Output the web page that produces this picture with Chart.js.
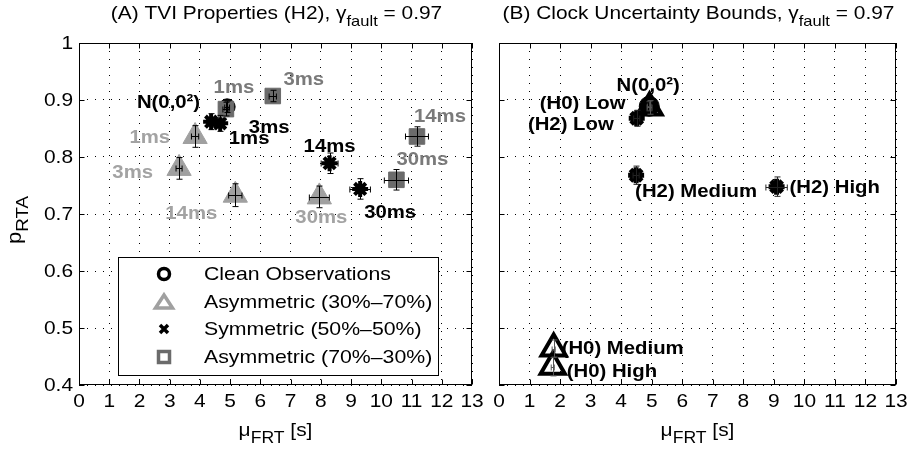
<!DOCTYPE html>
<html>
<head>
<meta charset="utf-8">
<title>TVI properties and clock uncertainty bounds</title>
<script src="https://cdn.jsdelivr.net/npm/chart.js@4.4.1/dist/chart.umd.min.js"></script>
<style>
body { margin: 0; background: #fff; }
#wrap { position: relative; width: 914px; height: 454px; }
#wrap canvas { position: absolute; left: 0; top: 0; }
</style>
</head>
<body>
<div id="wrap">
  <canvas id="chartA" width="914" height="454"></canvas>
  <canvas id="chartB" width="914" height="454"></canvas>
</div>
<script>
// ---------- data ----------
const xTickVals = [0, 1, 2, 3, 4, 5, 6, 7, 8, 9, 10, 11, 12, 13];
const xTickLabels = ['0', '1', '2', '3', '4', '5', '6', '7', '8', '9', '10', '11', '12', '13'];
const yTickVals = [0.4, 0.5, 0.6, 0.7, 0.8, 0.9, 1.0];
const yTickLabels = ['0.4', '0.5', '0.6', '0.7', '0.8', '0.9', '1'];

// (A) TVI properties (H2)
const aCleanX = [4.90];
const aCleanY = [0.888];
const aCleanErrX = [0.08];
const aCleanErrY = [0.010];
const aCleanLabels = ['N(0,0²)'];

const aTriX = [3.84, 3.31, 5.17, 7.95];          // asymmetric 30%-70%
const aTriY = [0.836, 0.780, 0.733, 0.730];
const aTriErrX = [0.12, 0.10, 0.22, 0.33];
const aTriErrY = [0.019, 0.019, 0.020, 0.019];
const aTriLabels = ['1ms', '3ms', '14ms', '30ms'];

const aStarX = [4.37, 4.67, 8.29, 9.30];         // symmetric 50%-50%
const aStarY = [0.862, 0.859, 0.789, 0.744];
const aStarErrX = [0.08, 0.08, 0.28, 0.34];
const aStarErrY = [0.014, 0.014, 0.018, 0.018];
const aStarLabels = ['1ms', '3ms', '14ms', '30ms'];

const aSqX = [4.86, 6.41, 11.18, 10.50];         // asymmetric 70%-30%
const aSqY = [0.884, 0.907, 0.836, 0.760];
const aSqErrX = [0.10, 0.12, 0.38, 0.40];
const aSqErrY = [0.012, 0.010, 0.017, 0.018];
const aSqLabels = ['1ms', '3ms', '14ms', '30ms'];

// (B) clock uncertainty bounds
const bCleanX = [4.92];
const bCleanY = [0.889];
const bCleanErrX = [0.06];
const bCleanErrY = [0.008];
const bCleanLabels = ['N(0,0²)'];

const bH0X = [4.93, 1.79, 1.76];
const bH0Y = [0.887, 0.464, 0.432];
const bH0ErrX = [0.08, 0.05, 0.05];
const bH0ErrY = [0.012, 0.015, 0.016];
const bH0Labels = ['(H0) Low', '(H0) Medium', '(H0) High'];

const bH2X = [4.51, 4.49, 9.09];
const bH2Y = [0.868, 0.768, 0.748];
const bH2ErrX = [0.10, 0.10, 0.35];
const bH2ErrY = [0.014, 0.016, 0.017];
const bH2Labels = ['(H2) Low', '(H2) Medium', '(H2) High'];

// label placement: pixel offset from the marker and text alignment
const aCleanLabelPos = [[-27, -4, 'right']];
const aTriLabelPos = [[-25, 1, 'right'], [-26, 4, 'right'], [-44, 19, 'center'], [2, 21, 'center']];
const aStarLabelPos = [[38, 17, 'center'], [49, 4, 'center'], [0, -17, 'center'], [30, 24, 'center']];
const aSqLabelPos = [[8, -21, 'center'], [31, -16, 'center'], [23, -20, 'center'], [26, -20, 'center']];
const bCleanLabelPos = [[-1, -21, 'center']];
const bH0LabelPos = [[-24, -4, 'right'], [8, 0, 'left'], [14, 5, 'left']];
const bH2LabelPos = [[-23, 7, 'right'], [-1, 17, 'left'], [13, 1, 'left']];

const FONT = "'Liberation Sans', Arial, Helvetica, sans-serif";
const STRETCH = 1.1;   // the original lettering is a bit wider than Arial

function pts(xs, ys) {
  return xs.map((x, i) => ({ x: x, y: ys[i] }));
}

// plain text, widened horizontally
function wideText(ctx, text, x, y, align, font, k) {
  ctx.save();
  ctx.font = font;
  ctx.textAlign = align;
  ctx.translate(x, y);
  ctx.scale(k || STRETCH, 1);
  ctx.fillText(text, 0, 0);
  ctx.restore();
}

// text with subscripts: parts = [[text, 'sub'|''], ...]
function richText(ctx, parts, x, y, align, size, subSize) {
  const fnt = s => s + 'px ' + FONT;
  let total = 0;
  parts.forEach(p => { ctx.font = fnt(p[1] ? subSize : size); total += ctx.measureText(p[0]).width * STRETCH; });
  let cx = align === 'center' ? x - total / 2 : (align === 'right' ? x - total : x);
  ctx.textBaseline = 'alphabetic';
  parts.forEach(p => {
    const f = fnt(p[1] ? subSize : size);
    wideText(ctx, p[0], cx, y + (p[1] === 'sub' ? 7 : 0), 'left', f);
    ctx.font = f;
    cx += ctx.measureText(p[0]).width * STRETCH;
  });
}

// error bars with caps
const errorBars = {
  id: 'errorBars',
  afterDatasetsDraw(chart) {
    const ctx = chart.ctx, xs = chart.scales.x, ys = chart.scales.y;
    chart.data.datasets.forEach(ds => {
      if (!ds.errX) return;
      ctx.save();
      ctx.strokeStyle = ds.errColor || '#000';
      ctx.lineWidth = 1;
      ds.data.forEach((p, i) => {
        const x0 = xs.getPixelForValue(p.x - ds.errX[i]), x1 = xs.getPixelForValue(p.x + ds.errX[i]);
        const y0 = ys.getPixelForValue(p.y - ds.errY[i]), y1 = ys.getPixelForValue(p.y + ds.errY[i]);
        const px = Math.round(xs.getPixelForValue(p.x)) + 0.5, py = Math.round(ys.getPixelForValue(p.y)) + 0.5;
        ctx.beginPath();
        ctx.moveTo(x0, py); ctx.lineTo(x1, py);
        ctx.moveTo(x0, py - 3); ctx.lineTo(x0, py + 3);
        ctx.moveTo(x1, py - 3); ctx.lineTo(x1, py + 3);
        ctx.moveTo(px, y0); ctx.lineTo(px, y1);
        ctx.moveTo(px - 3, y0); ctx.lineTo(px + 3, y0);
        ctx.moveTo(px - 3, y1); ctx.lineTo(px + 3, y1);
        ctx.stroke();
      });
      ctx.restore();
    });
  }
};

// point labels
const pointLabels = {
  id: 'pointLabels',
  afterDatasetsDraw(chart) {
    const ctx = chart.ctx;
    chart.data.datasets.forEach((ds, di) => {
      if (!ds.ptLabels) return;
      const meta = chart.getDatasetMeta(di);
      ctx.save();
      ctx.fillStyle = ds.labelColor;
      ctx.textBaseline = 'middle';
      meta.data.forEach((el, i) => {
        const pos = ds.ptLabelPos[i];
        wideText(ctx, ds.ptLabels[i], el.x + pos[0], el.y + pos[1], pos[2], 'bold 19px ' + FONT, 1.07);
      });
      ctx.restore();
    });
  }
};

// frame, inward ticks, tick labels, titles, axis labels, legend
const panelDeco = {
  id: 'panelDeco',
  afterDraw(chart, args, opts) {
    const ctx = chart.ctx, a = chart.chartArea, xs = chart.scales.x, ys = chart.scales.y;
    const L = Math.round(a.left) + 0.5, R = Math.round(a.right) - 0.5;
    const T = Math.round(a.top) + 0.5, B = Math.round(a.bottom) - 0.5;
    ctx.save();
    ctx.strokeStyle = '#000';
    ctx.lineWidth = 1;
    ctx.beginPath();
    xTickVals.forEach(v => {
      const px = Math.round(xs.getPixelForValue(v)) + 0.5;
      ctx.moveTo(px, T); ctx.lineTo(px, T + 5);
      ctx.moveTo(px, B); ctx.lineTo(px, B - 5);
    });
    yTickVals.forEach(v => {
      const py = Math.round(ys.getPixelForValue(v)) + 0.5;
      ctx.moveTo(L, py); ctx.lineTo(L + 5, py);
      ctx.moveTo(R, py); ctx.lineTo(R - 5, py);
    });
    ctx.stroke();
    ctx.strokeRect(L, T, R - L, B - T);

    ctx.fillStyle = '#000';
    ctx.textBaseline = 'middle';
    xTickVals.forEach((v, i) => {
      wideText(ctx, xTickLabels[i], xs.getPixelForValue(v), a.bottom + 17, 'center', '19px ' + FONT);
    });
    if (opts.yLabel) {
      yTickVals.forEach((v, i) => {
        wideText(ctx, yTickLabels[i], a.left - 6, ys.getPixelForValue(v) + 1, 'right', '19px ' + FONT);
      });
    }

    const cx = (a.left + a.right) / 2;
    richText(ctx, opts.title, cx + 1, 19, 'center', 19, 15);
    richText(ctx, [['μ', ''], ['FRT', 'sub'], [' [s]', '']], cx, 436, 'center', 19, 16);

    if (opts.yLabel) {
      ctx.save();
      ctx.translate(21, (a.top + a.bottom) / 2 + 6);
      ctx.rotate(-Math.PI / 2);
      richText(ctx, [['p', ''], ['RTA', 'sub']], 0, 0, 'center', 20, 17);
      ctx.restore();
    }

    if (opts.legend) {
      const bx = 118.5, by = 257.5, bw = 320, bh = 118;
      ctx.fillStyle = '#fff';
      ctx.fillRect(bx, by, bw, bh);
      ctx.strokeRect(bx, by, bw, bh);
      const mx = 164, tx = 204;
      const rows = [274, 302, 329, 357];
      const names = ['Clean Observations', 'Asymmetric (30%\u201370%)', 'Symmetric (50%\u201350%)', 'Asymmetric (70%\u201330%)'];
      ctx.lineWidth = 3.5;
      // circle
      ctx.strokeStyle = '#000';
      ctx.beginPath(); ctx.arc(mx, rows[0], 5.5, 0, Math.PI * 2); ctx.stroke();
      // triangle
      ctx.strokeStyle = '#a0a0a0';
      ctx.beginPath();
      ctx.moveTo(mx, rows[1] - 7); ctx.lineTo(mx + 8.5, rows[1] + 6); ctx.lineTo(mx - 8.5, rows[1] + 6); ctx.closePath();
      ctx.stroke();
      // x
      ctx.strokeStyle = '#000';
      ctx.beginPath();
      ctx.moveTo(mx - 4, rows[2] - 4); ctx.lineTo(mx + 4, rows[2] + 4);
      ctx.moveTo(mx + 4, rows[2] - 4); ctx.lineTo(mx - 4, rows[2] + 4);
      ctx.stroke();
      // square
      ctx.strokeStyle = '#6b6b6b';
      ctx.strokeRect(mx - 5.5, rows[3] - 5.5, 11, 11);
      ctx.fillStyle = '#000';
      ctx.textBaseline = 'middle';
      names.forEach((n, i) => wideText(ctx, n, tx, rows[i] + 1, 'left', '19px ' + FONT, 1.12));
    }
    ctx.restore();
  }
};

function axes(yWidth) {
  return {
    x: {
      type: 'linear', min: 0, max: 13,
      afterBuildTicks: s => { s.ticks = xTickVals.map(v => ({ value: v })); },
      ticks: { display: false },
      grid: { color: '#000', lineWidth: 1, drawTicks: false },
      border: { display: false, dash: [1, 7] },
      afterFit: s => { s.height = 69; s.paddingLeft = 0; s.paddingRight = 0; }
    },
    y: {
      type: 'linear', min: 0.4, max: 1,
      afterBuildTicks: s => { s.ticks = yTickVals.map(v => ({ value: v })); },
      ticks: { display: false },
      grid: { color: '#000', lineWidth: 1, drawTicks: false },
      border: { display: false, dash: [1, 7] },
      afterFit: s => { s.width = yWidth; s.paddingTop = 0; s.paddingBottom = 0; }
    }
  };
}

new Chart(document.getElementById('chartA'), {
  type: 'scatter',
  data: {
    datasets: [
      { label: 'Clean Observations', data: pts(aCleanX, aCleanY), order: 4,
        pointStyle: 'circle', radius: 8, backgroundColor: '#000', borderColor: '#000', borderWidth: 1,
        errX: aCleanErrX, errY: aCleanErrY, ptLabels: aCleanLabels, ptLabelPos: aCleanLabelPos, labelColor: '#000' },
      { label: 'Asymmetric (30%-70%)', data: pts(aTriX, aTriY), order: 3,
        pointStyle: 'triangle', radius: 14, backgroundColor: '#a0a0a0', borderColor: '#a0a0a0', borderWidth: 1,
        errX: aTriErrX, errY: aTriErrY, ptLabels: aTriLabels, ptLabelPos: aTriLabelPos, labelColor: '#a3a3a3' },
      { label: 'Symmetric (50%-50%)', data: pts(aStarX, aStarY), order: 2,
        pointStyle: 'star', radius: 8, borderColor: '#000', borderWidth: 4,
        errX: aStarErrX, errY: aStarErrY, ptLabels: aStarLabels, ptLabelPos: aStarLabelPos, labelColor: '#000' },
      { label: 'Asymmetric (70%-30%)', data: pts(aSqX, aSqY), order: 1,
        pointStyle: 'rect', radius: 11, backgroundColor: '#6b6b6b', borderColor: '#6b6b6b', borderWidth: 1,
        errX: aSqErrX, errY: aSqErrY, ptLabels: aSqLabels, ptLabelPos: aSqLabelPos, labelColor: '#7a7a7a' }
    ]
  },
  options: {
    responsive: false, animation: false, events: [],
    layout: { padding: { left: 0, right: 442, top: 43, bottom: 0 } },
    plugins: {
      legend: { display: false }, tooltip: { enabled: false },
      panelDeco: { title: [['(A) TVI Properties (H2), γ', ''], ['fault', 'sub'], [' = 0.97', '']], yLabel: true, legend: true }
    },
    scales: axes(79)
  },
  plugins: [errorBars, pointLabels, panelDeco]
});

new Chart(document.getElementById('chartB'), {
  type: 'scatter',
  data: {
    datasets: [
      { label: 'Clean Observations', data: pts(bCleanX, bCleanY), order: 3,
        pointStyle: 'circle', radius: 10, backgroundColor: '#000', borderColor: '#000', borderWidth: 1,
        errX: bCleanErrX, errY: bCleanErrY, errColor: '#444', ptLabels: bCleanLabels, ptLabelPos: bCleanLabelPos, labelColor: '#000' },
      { label: 'H0', data: pts(bH0X, bH0Y), order: 1,
        pointStyle: 'triangle', radius: 14, backgroundColor: 'rgba(255,255,255,0)', borderColor: '#000', borderWidth: 4,
        errX: bH0ErrX, errY: bH0ErrY, errColor: '#555', ptLabels: bH0Labels, ptLabelPos: bH0LabelPos, labelColor: '#000' },
      { label: 'H2', data: pts(bH2X, bH2Y), order: 2,
        pointStyle: 'star', radius: 8, borderColor: '#000', borderWidth: 5,
        errX: bH2ErrX, errY: bH2ErrY, errColor: '#222', ptLabels: bH2Labels, ptLabelPos: bH2LabelPos, labelColor: '#000' }
    ]
  },
  options: {
    responsive: false, animation: false, events: [],
    layout: { padding: { left: 499, right: 13, top: 43, bottom: 0 } },
    plugins: {
      legend: { display: false }, tooltip: { enabled: false },
      panelDeco: { title: [['(B) Clock Uncertainty Bounds, γ', ''], ['fault', 'sub'], [' = 0.97', '']], yLabel: false, legend: false }
    },
    scales: axes(0)
  },
  plugins: [errorBars, pointLabels, panelDeco]
});
</script>
</body>
</html>
